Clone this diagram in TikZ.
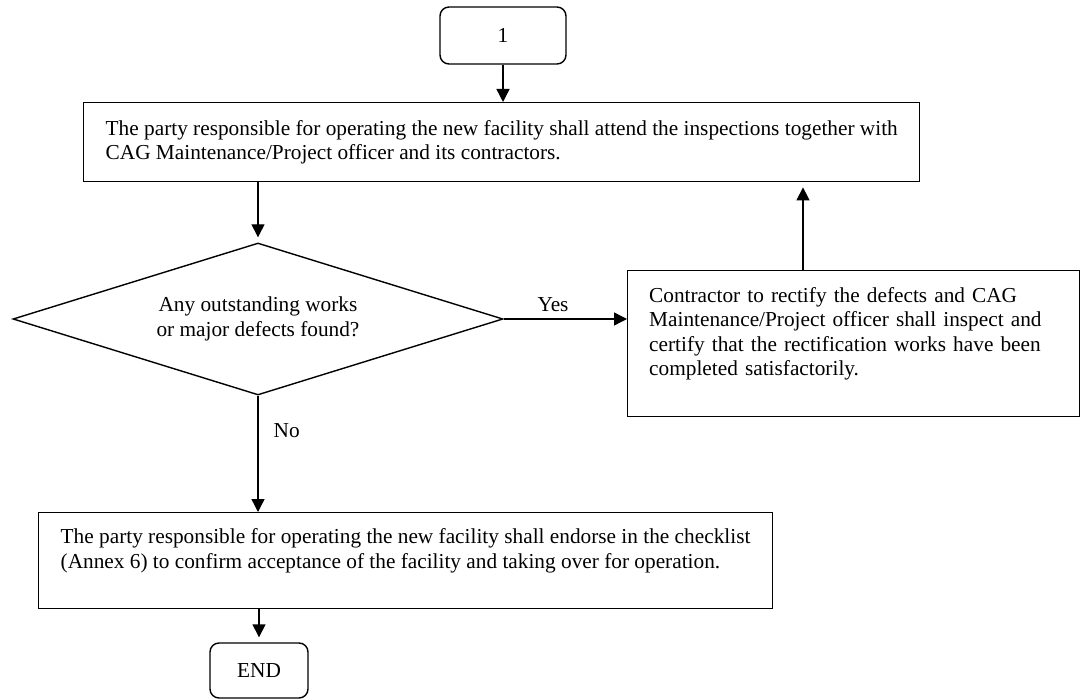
\documentclass[tikz,border=0pt]{standalone}
\usepackage{fontspec}
\setmainfont{Liberation Serif}
\usetikzlibrary{arrows.meta,shapes.geometric,calc}
\newcommand\myfs{\fontsize{21.3}{24.5}\selectfont}
\begin{document}
\begin{tikzpicture}[x=1pt,y=-1pt,
  every node/.style={font=\myfs},
  arr/.style={line width=1.4pt,-{Triangle[length=13pt,width=13pt]}},
  procbox/.style={draw,line width=1.4pt,rectangle,inner xsep=22pt,inner ysep=0pt,align=left},
  termbox/.style={draw,line width=1.4pt,rounded corners=9pt,inner sep=0pt},
  decbox/.style={draw,line width=1.4pt,shape=diamond,aspect=3.2,inner sep=0pt,align=center},
  lbl/.style={inner sep=0pt}]
\fill[white] (0,0) rectangle (1084,700);
\useasboundingbox (0,0) rectangle (1084,700);

\node[termbox,minimum width=126pt,minimum height=57pt] (start) at (503,35.5) {1};

\node[procbox,anchor=north west,minimum height=79pt] (inspect) at (83,102)
  {The party responsible for operating the new facility shall attend the inspections together with\\
   CAG Maintenance/Project officer and its contractors.};

\node[decbox,minimum width=490pt,minimum height=152pt] (check) at (258,319)
  {Any outstanding works\\or major defects found?};

\node[procbox,anchor=north west,text width=409pt,inner xsep=21.5pt,minimum height=146pt] (rectify) at (627,270)
  {\makebox[409pt][s]{Contractor to rectify the defects and CAG}\\
   \makebox[409pt][s]{Maintenance/Project officer shall inspect and}\\
   \makebox[409pt][s]{certify that the rectification works have been}\\
   completed satisfactorily.\\
   \mbox{}};

\node[procbox,anchor=north west,minimum height=96pt] (endorse) at (38,512)
  {The party responsible for operating the new facility shall endorse in the checklist\\
   (Annex 6) to confirm acceptance of the facility and taking over for operation.\\
   \mbox{}};

\node[termbox,minimum width=98pt,minimum height=55pt] (finish) at (259,670.5) {END};

\draw[arr] (start.south) -- (start.south |- inspect.north);
\draw[arr,shorten >=5pt] (check.north |- inspect.south) -- (check.north);
\draw[arr] (check.east) -- (check.east -| rectify.west)
  node[lbl,pos=0.4,anchor=base,yshift=7pt] (yes) {Yes};
\coordinate (up) at ([xshift=176pt]rectify.north west);
\draw[arr,shorten >=5pt] (up) -- (up |- inspect.south);
\draw[arr] (check.south) -- (check.south |- endorse.north)
  node[lbl,pos=0.3,anchor=west,xshift=15pt] (no) {No};
\draw[arr,shorten >=5pt] (finish.north |- endorse.south) -- (finish.north);
\end{tikzpicture}
\end{document}
